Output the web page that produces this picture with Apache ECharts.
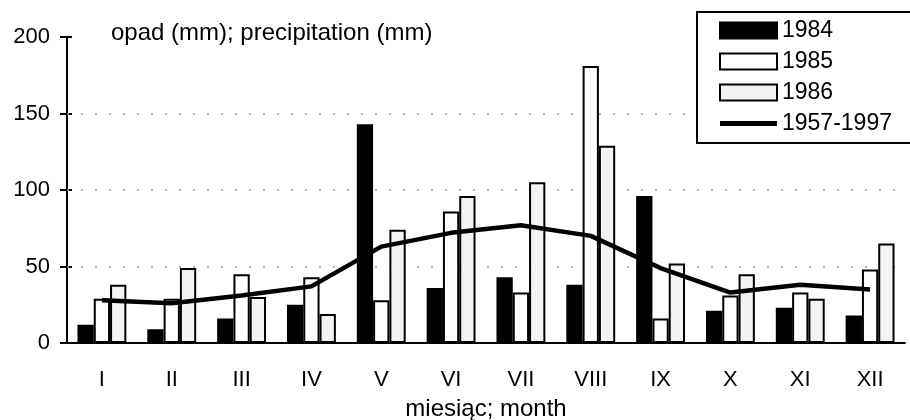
<!DOCTYPE html>
<html>
<head>
<meta charset="utf-8">
<script src="https://cdn.jsdelivr.net/npm/echarts@6/dist/echarts.min.js"></script>
<style>
  html, body { margin: 0; padding: 0; background: #fff; }
  #chart { width: 910px; height: 420px; }
</style>
</head>
<body>
<div id="chart"></div>
<script>
var months = ['I', 'II', 'III', 'IV', 'V', 'VI', 'VII', 'VIII', 'IX', 'X', 'XI', 'XII'];
var rain1984 = [12, 9, 16, 25, 143, 36, 43, 38, 96, 21, 23, 18];
var rain1985 = [29, 29, 45, 43, 28, 86, 33, 181, 16, 31, 33, 48];
var rain1986 = [38, 49, 30, 19, 74, 96, 105, 129, 52, 45, 29, 65];
var mean5797 = [28, 26, 31, 37, 63, 72, 77, 70, 49, 33, 38, 35];
var yTicks = [50, 100, 150];

var font = 'Liberation Sans, Arial, sans-serif';

const getOptionChart = () => {
  return {
    animation: false,
    backgroundColor: '#fff',
    textStyle: { fontFamily: font, color: '#000' },
    title: {
      text: 'opad (mm); precipitation (mm)',
      left: 106,
      top: 16,
      textStyle: { fontFamily: font, fontSize: 24, fontWeight: 'normal', color: '#000' }
    },
    graphic: [{
      type: 'rect',
      z: 3,
      shape: { x: 697, y: 12, width: 240, height: 131 },
      style: { fill: '#fff', stroke: '#000', lineWidth: 2 }
    }],
    legend: {
      orient: 'vertical',
      left: 714,
      top: 14,
      z: 10,
      itemWidth: 57,
      itemHeight: 16,
      itemGap: 8,
      symbolKeepAspect: true,
      textStyle: { fontFamily: font, fontSize: 23, color: '#000' },
      data: [
        { name: '1984', icon: 'rect' },
        { name: '1985', icon: 'rect' },
        { name: '1986', icon: 'rect' },
        { name: '1957-1997', icon: 'path://M0,0H57V5H0Z', itemStyle: { color: '#000', borderWidth: 0 } }
      ]
    },
    grid: { left: 67, right: 5, top: 37, bottom: 77, outerBoundsMode: 'none' },
    xAxis: [{
      type: 'category',
      data: months,
      name: 'miesiąc; month',
      nameLocation: 'middle',
      nameGap: 54,
      nameTextStyle: { fontFamily: font, fontSize: 24, color: '#000' },
      axisLine: { lineStyle: { color: '#000', width: 2 } },
      axisTick: { length: 9, lineStyle: { color: '#000', width: 2 } },
      axisLabel: { fontFamily: font, fontSize: 22, color: '#000', margin: 26 },
      splitLine: { show: false }
    }, {
      type: 'category',
      data: months,
      position: 'bottom',
      axisLine: { show: false },
      axisTick: { inside: true, length: 6, lineStyle: { color: '#000', width: 2 } },
      axisLabel: { show: false }
    }],
    yAxis: [{
      type: 'value',
      min: 0,
      max: 200,
      interval: 50,
      axisLine: { show: true, lineStyle: { color: '#000', width: 2 } },
      axisTick: { show: true, length: 7, lineStyle: { color: '#000', width: 2 } },
      axisLabel: { fontFamily: font, fontSize: 22, color: '#000', margin: 17 },
      splitLine: { show: false }
    }, {
      type: 'value',
      min: 0,
      max: 200,
      interval: 50,
      position: 'left',
      axisLine: { show: false },
      axisTick: { show: true, inside: true, length: 5, lineStyle: { color: '#000', width: 2 } },
      axisLabel: { show: false },
      splitLine: { show: false }
    }],
    series: [
      {
        name: '1984',
        type: 'bar',
        data: rain1984,
        barGap: '0%',
        barCategoryGap: '30%',
        itemStyle: { color: '#000', borderColor: '#000', borderWidth: 2 }
      },
      {
        name: '1985',
        type: 'bar',
        data: rain1985,
        itemStyle: { color: '#fff', borderColor: '#000', borderWidth: 2 }
      },
      {
        name: '1986',
        type: 'bar',
        data: rain1986,
        itemStyle: { color: '#f3f3f3', borderColor: '#000', borderWidth: 2 }
      },
      {
        name: '1957-1997',
        type: 'line',
        data: mean5797,
        symbol: 'none',
        z: 5,
        lineStyle: { color: '#000', width: 4.5 },
        itemStyle: { color: '#000' },
        markLine: {
          silent: true,
          symbol: 'none',
          z: 1,
          label: { show: false },
          lineStyle: { color: '#999', width: 1.5, type: [2, 12] },
          data: yTicks.map(v => ({ yAxis: v }))
        }
      }
    ]
  };
};

const initCharts = () => {
  const chart = echarts.init(document.getElementById('chart'));
  chart.setOption(getOptionChart());
};

window.addEventListener('load', () => {
  initCharts();
});
</script>
</body>
</html>
